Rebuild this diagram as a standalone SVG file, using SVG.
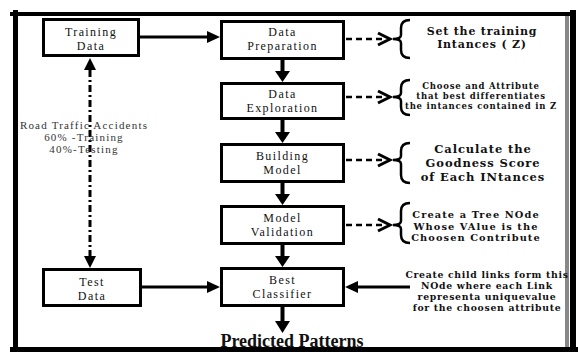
<svg xmlns="http://www.w3.org/2000/svg" width="578" height="352" viewBox="0 0 578 352">
<defs>
<style>
.box{fill:#fff;stroke:#000;stroke-width:3}
.bt{font-family:"Liberation Serif","Times New Roman",serif;font-size:12px;letter-spacing:1.4px;text-anchor:middle;fill:#111}
.nt{font-family:"DejaVu Serif","Liberation Serif",serif;font-weight:bold;text-anchor:middle;fill:#111}
.pp{font-family:"Liberation Serif","Times New Roman",serif;font-weight:bold;text-anchor:middle;fill:#111;font-size:18px}
.lbl{font-family:"Liberation Serif","Times New Roman",serif;font-size:11px;letter-spacing:1.2px;text-anchor:middle;fill:#333}
.sh{stroke:#000;stroke-width:4;fill:none}
.dash{stroke:#000;stroke-width:2.5;stroke-dasharray:6 4;fill:none}
.chev{stroke:#000;stroke-width:3;fill:none}
.brace{stroke:#000;stroke-width:2.5;fill:none}
.head{fill:#000}
</style>
</defs>
<rect width="578" height="352" fill="#fff"/>
<rect x="565" y="16" width="4" height="331" fill="#888"/>

<g id="connectors">
  <line class="sh" x1="140" y1="37" x2="208" y2="37" style="stroke-width:3"/>
  <polygon class="head" points="207,31 220,37 207,43"/>
  <line class="sh" x1="142" y1="287" x2="208" y2="287" style="stroke-width:3"/>
  <polygon class="head" points="207,281 220,287 207,293"/>
  <line class="sh" x1="410" y1="287" x2="357" y2="287" style="stroke-width:3"/>
  <polygon class="head" points="358,281 345,287 358,293"/>
  <line class="sh" x1="282.5" y1="60" x2="282.5" y2="72"/>
  <polygon class="head" points="275,71 290,71 282.5,82"/>
  <line class="sh" x1="282.5" y1="120" x2="282.5" y2="133"/>
  <polygon class="head" points="275,132 290,132 282.5,143"/>
  <line class="sh" x1="282.5" y1="183" x2="282.5" y2="195"/>
  <polygon class="head" points="275,194 290,194 282.5,205"/>
  <line class="sh" x1="282.5" y1="245" x2="282.5" y2="257"/>
  <polygon class="head" points="275,256 290,256 282.5,267"/>
  <line class="sh" x1="282.5" y1="307" x2="282.5" y2="322"/>
  <polygon class="head" points="275,321 290,321 282.5,333"/>
  <line x1="90" y1="70" x2="90" y2="257" stroke="#000" stroke-width="3" stroke-dasharray="7 3 2 3"/>
  <polygon class="head" points="84,70 96,70 90,58"/>
  <polygon class="head" points="84,256 96,256 90,268"/>
  <line class="dash" x1="346" y1="39" x2="386" y2="39"/>
  <polyline class="chev" points="378,33 390,39 378,45"/>
  <line class="dash" x1="346" y1="97" x2="386" y2="97"/>
  <polyline class="chev" points="378,91 390,97 378,103"/>
  <line class="dash" x1="346" y1="160" x2="386" y2="160"/>
  <polyline class="chev" points="378,154 390,160 378,166"/>
  <line class="dash" x1="346" y1="225" x2="386" y2="225"/>
  <polyline class="chev" points="378,219 390,225 378,231"/>
  <path class="brace" d="M410,20 Q401,20 401,28 L401,35 Q401,39 393,39 Q401,39 401,43 L401,50 Q401,58 410,58"/>
  <path class="brace" d="M410,80 Q401,80 401,88 L401,93 Q401,97 393,97 Q401,97 401,101 L401,107 Q401,115 410,115"/>
  <path class="brace" d="M410,143 Q401,143 401,151 L401,156 Q401,160 393,160 Q401,160 401,164 L401,175 Q401,183 410,183"/>
  <path class="brace" d="M410,203 Q401,203 401,211 L401,221 Q401,225 393,225 Q401,225 401,229 L401,235 Q401,243 410,243"/>
</g>

<g id="training-data">
  <rect class="box" x="43.5" y="19.5" width="95" height="36"/>
  <text class="bt" x="91" y="36">Training</text>
  <text class="bt" x="91" y="50">Data</text>
</g>
<g id="test-data">
  <rect class="box" x="43.5" y="269.5" width="97" height="36"/>
  <text class="bt" x="92" y="286">Test</text>
  <text class="bt" x="92" y="300">Data</text>
</g>
<g id="split-label">
  <text class="lbl" x="84" y="129">Road Traffic Accidents</text>
  <text class="lbl" x="84" y="141">60% -Training</text>
  <text class="lbl" x="84" y="153">40%-Testing</text>
</g>
<g id="data-preparation">
  <rect class="box" x="221.5" y="21.5" width="122" height="37"/>
  <text class="bt" x="282.5" y="36">Data</text>
  <text class="bt" x="282.5" y="50">Preparation</text>
</g>
<g id="data-exploration">
  <rect class="box" x="221.5" y="83.5" width="122" height="35"/>
  <text class="bt" x="282.5" y="98">Data</text>
  <text class="bt" x="282.5" y="112">Exploration</text>
</g>
<g id="building-model">
  <rect class="box" x="221.5" y="144.5" width="122" height="37"/>
  <text class="bt" x="282.5" y="160">Building</text>
  <text class="bt" x="282.5" y="174">Model</text>
</g>
<g id="model-validation">
  <rect class="box" x="221.5" y="206.5" width="122" height="37"/>
  <text class="bt" x="282.5" y="222">Model</text>
  <text class="bt" x="282.5" y="236">Validation</text>
</g>
<g id="best-classifier">
  <rect class="box" x="221.5" y="268.5" width="122" height="37"/>
  <text class="bt" x="282.5" y="284">Best</text>
  <text class="bt" x="282.5" y="298">Classifier</text>
</g>
<g id="predicted-patterns">
  <text class="pp" x="292" y="347">Predicted Patterns</text>
</g>

<g id="note-1">
  <text class="nt" x="482" y="35" style="font-size:11px;letter-spacing:0.8px">Set the training</text>
  <text class="nt" x="482" y="48" style="font-size:11px;letter-spacing:0.8px">Intances ( Z)</text>
</g>
<g id="note-2">
  <text class="nt" x="481" y="89" style="font-size:8.5px;letter-spacing:0.8px">Choose and Attribute</text>
  <text class="nt" x="481" y="99" style="font-size:8.5px;letter-spacing:0.8px">that best differentiates</text>
  <text class="nt" x="481" y="109" style="font-size:8.5px;letter-spacing:0.8px">the intances contained in Z</text>
</g>
<g id="note-3">
  <text class="nt" x="483" y="153" style="font-size:11.5px;letter-spacing:0.9px">Calculate the</text>
  <text class="nt" x="483" y="167" style="font-size:11.5px;letter-spacing:0.9px">Goodness Score</text>
  <text class="nt" x="483" y="181" style="font-size:11.5px;letter-spacing:0.9px">of Each INtances</text>
</g>
<g id="note-4">
  <text class="nt" x="476" y="218" style="font-size:9.8px;letter-spacing:1.1px">Create a Tree NOde</text>
  <text class="nt" x="476" y="229.5" style="font-size:9.8px;letter-spacing:1.1px">Whose VAlue is the</text>
  <text class="nt" x="476" y="241" style="font-size:9.8px;letter-spacing:1.1px">Choosen Contribute</text>
</g>
<g id="note-5">
  <text class="nt" x="487" y="278" style="font-size:9.3px;letter-spacing:0.7px">Create child links form this</text>
  <text class="nt" x="487" y="289" style="font-size:9.3px;letter-spacing:0.7px">NOde where each Link</text>
  <text class="nt" x="487" y="300" style="font-size:9.3px;letter-spacing:0.7px">representa uniquevalue</text>
  <text class="nt" x="487" y="310.5" style="font-size:9.3px;letter-spacing:0.7px">for the choosen attribute</text>
</g>

<g id="frame">
  <rect x="10" y="12" width="566" height="4" fill="#000"/>
  <rect x="13" y="10" width="5" height="342" fill="#000"/>
  <rect x="570" y="10" width="6" height="342" fill="#000"/>
  <rect x="10" y="347" width="568" height="5" fill="#000"/>
</g>
</svg>
